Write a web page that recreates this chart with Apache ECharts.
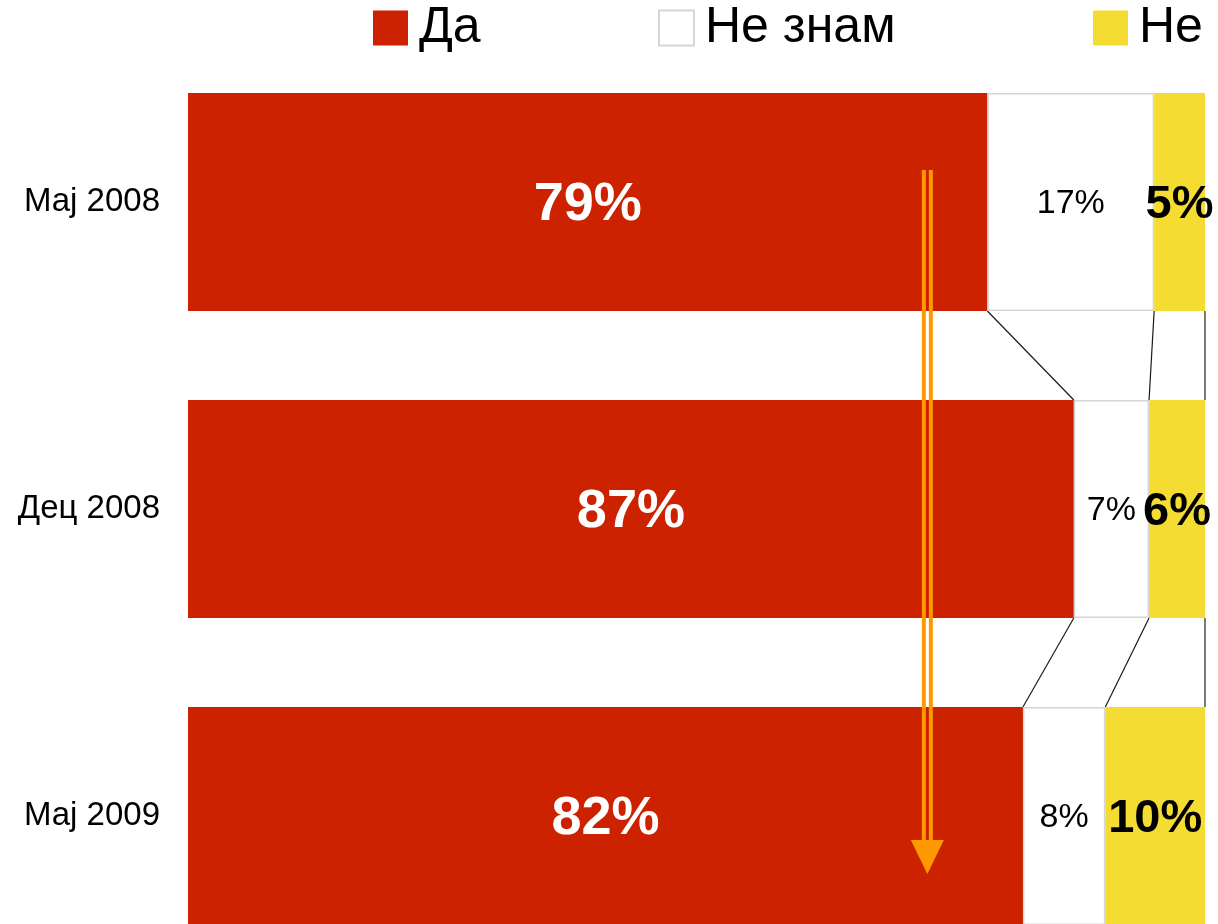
<!DOCTYPE html>
<html><head><meta charset="utf-8">
<script src="https://cdn.jsdelivr.net/npm/echarts@6/dist/echarts.min.js"></script>
<style>html,body{margin:0;padding:0;background:#fff;overflow:hidden}#c{width:1218px;height:970px}</style>
</head><body><div id="c"></div>
<script>
// ---- data ----
const categories = ['Мај 2008', 'Дец 2008', 'Мај 2009'];
const seriesNames = ['Да', 'Не знам', 'Не'];
// bar lengths (share of full bar width, %)
const yesValues = [78.6, 87.1, 82.1];
const dontKnowValues = [16.4, 7.4, 8.1];
const noValues = [5.0, 5.5, 9.8];
// printed labels
const yesLabels = [79, 87, 82];
const dontKnowLabels = [17, 7, 8];
const noLabels = [5, 6, 10];
// arrow annotation position on the value axis
const arrowX = 72.7;

// ---- styling ----
const FONT = 'Liberation Sans';
const RED = '#CC2200', YELLOW = '#F5DC32', WHITE = '#FFFFFF';
const BAR_FRAC = 0.71;

const chart = echarts.init(document.getElementById('c'), null, {renderer: 'canvas'});

function cumBounds(k) {
  return [yesValues[k], yesValues[k] + dontKnowValues[k], yesValues[k] + dontKnowValues[k] + noValues[k]];
}

const legendLeft = [373, 658, 1093];

const option = {
  backgroundColor: '#ffffff',
  animation: false,
  textStyle: {fontFamily: FONT},
  legend: seriesNames.map((n, k) => ({
    data: [n], left: legendLeft[k], top: 3, padding: 0, itemGap: 0,
    itemWidth: 35, itemHeight: 35, icon: 'rect', selectedMode: false,
    textStyle: {fontSize: 50, color: '#000', fontFamily: FONT, padding: [4, 0, 0, 6]}
  })),
  grid: {left: 188, right: 13, top: 48.5, bottom: 0.5, containLabel: false},
  xAxis: {type: 'value', min: 0, max: 100, show: false},
  yAxis: {
    type: 'category', data: categories, inverse: true,
    axisLine: {show: false}, axisTick: {show: false}, splitLine: {show: false},
    axisLabel: {fontSize: 33, color: '#000', fontFamily: FONT, margin: 28}
  },
  series: [
    {
      name: seriesNames[0], type: 'bar', stack: 'total', data: yesValues,
      barWidth: (BAR_FRAC * 100) + '%',
      itemStyle: {color: RED},
      label: {show: true, position: 'inside', offset: [0, 3], color: '#fff', fontWeight: 'bold', fontSize: 54, fontFamily: FONT,
        formatter: p => yesLabels[p.dataIndex] + '%'}
    },
    {
      name: seriesNames[1], type: 'bar', stack: 'total', data: dontKnowValues,
      itemStyle: {color: WHITE, borderColor: '#D6D6D6', borderWidth: 1.5},
      label: {show: true, position: 'inside', offset: [0, 2], color: '#000', fontSize: 34, fontFamily: FONT,
        formatter: p => dontKnowLabels[p.dataIndex] + '%'}
    },
    {
      name: seriesNames[2], type: 'bar', stack: 'total', data: noValues,
      itemStyle: {color: YELLOW},
      label: {show: true, position: 'inside', offset: [0, 3], color: '#000', fontWeight: 'bold', fontSize: 47, fontFamily: FONT,
        formatter: p => noLabels[p.dataIndex] + '%'}
    },
    {
      name: 'connectors', type: 'custom', silent: true, z: 1,
      data: [[0, 0], [0, 1]],
      renderItem: function (params, api) {
        const i = params.dataIndex;
        const band = api.size([0, 1])[1];
        const half = band * BAR_FRAC / 2;
        const a = cumBounds(i), b = cumBounds(i + 1);
        return {
          type: 'group',
          children: a.map((v, j) => {
            const p1 = api.coord([v, i]);
            const p2 = api.coord([b[j], i + 1]);
            return {
              type: 'line',
              shape: {x1: p1[0], y1: p1[1] + half, x2: p2[0], y2: p2[1] - half},
              style: {stroke: j === 2 ? '#7a7a7a' : '#1a1a1a', lineWidth: j === 2 ? 2 : 1.2}
            };
          })
        };
      }
    },
    {
      name: 'arrow', type: 'custom', silent: true, z: 10,
      data: [[arrowX, 0]],
      renderItem: function (params, api) {
        const band = api.size([0, 1])[1];
        const top = api.coord([arrowX, 0]);
        const bot = api.coord([arrowX, categories.length - 1]);
        const x = top[0];
        const y1 = top[1] - 0.104 * band;
        const tip = bot[1] + 0.189 * band;
        const headTop = tip - 34;
        const col = '#FF9900';
        return {
          type: 'group',
          children: [
            {type: 'line', shape: {x1: x - 3.5, y1: y1, x2: x - 3.5, y2: headTop + 2}, style: {stroke: col, lineWidth: 4}},
            {type: 'line', shape: {x1: x + 3.5, y1: y1, x2: x + 3.5, y2: headTop + 2}, style: {stroke: col, lineWidth: 4}},
            {type: 'polygon', shape: {points: [[x - 16.5, headTop], [x + 16.5, headTop], [x, tip]]}, style: {fill: col}}
          ]
        };
      }
    }
  ]
};
chart.setOption(option);
</script>
</body></html>
